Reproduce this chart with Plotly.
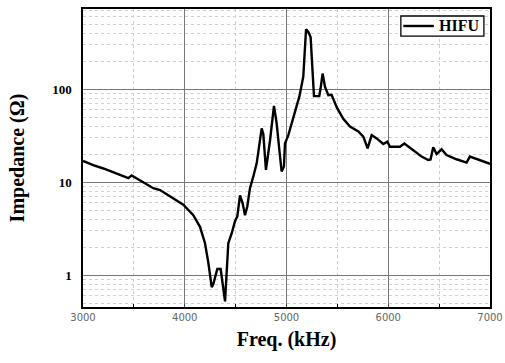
import plotly.graph_objects as go

freq = [3000, 3100, 3200, 3300, 3446, 3478, 3560, 3691, 3757, 3888, 3986, 4084, 4150, 4199, 4232, 4265,
        4281, 4320, 4353, 4396, 4428, 4461, 4494, 4517, 4543, 4569, 4592, 4615, 4641, 4674, 4707, 4756,
        4772, 4798, 4838, 4877, 4903, 4930, 4952, 4975, 4985, 5018, 5067, 5126, 5165, 5192, 5214, 5237,
        5270, 5322, 5335, 5355, 5378, 5411, 5443, 5493, 5558, 5624, 5706, 5755, 5797, 5837, 5886, 5951,
        5991, 6017, 6115, 6158, 6246, 6328, 6393, 6416, 6442, 6475, 6524, 6573, 6671, 6770, 6802, 6868, 7000]
impedance = [16.9, 15.2, 14.0, 12.6, 11.0, 11.8, 10.5, 8.6, 8.2, 6.7, 5.7, 4.4, 3.3, 2.2, 1.35, 0.74,
             0.80, 1.16, 1.16, 0.52, 2.2, 2.8, 3.8, 4.3, 7.2, 5.9, 4.4, 5.5, 8.6, 11.5, 15.9, 37.8,
             33, 13.5, 28, 66, 43, 22, 13, 14.7, 26, 32, 50, 83, 136, 440, 412, 363,
             84, 84, 102, 147, 106, 86, 87, 64, 48, 39.5, 35, 30.8, 23, 32, 29.5, 25.7,
             27.2, 24, 24, 26, 22, 18.8, 17.3, 17.5, 23.7, 20, 22.5, 19.5, 17.6, 16.2, 18.8, 17.6, 15.7]

series_name = "HIFU"
x_ticks = [3000, 4000, 5000, 6000, 7000]
y_ticks = [1, 10, 100]
y_tick_text = ["1", "10", "100"]
y_minor = [v * m for v in [0.1, 1, 10, 100] for m in range(2, 10)]

fig = go.Figure()
fig.add_trace(go.Scatter(x=freq, y=impedance, mode="lines", name=series_name,
                         line=dict(color="black", width=2.4), showlegend=False))

serif = "Liberation Serif, Times New Roman, serif"

# compact legend box: frame, sample line, label
fig.add_shape(type="rect", xref="paper", yref="paper", x0=0.781, x1=0.985, y0=0.909, y1=0.9765,
              line=dict(color="black", width=1.3), fillcolor="white", layer="above")
fig.add_shape(type="line", xref="paper", yref="paper", x0=0.787, x1=0.862, y0=0.943, y1=0.943,
              line=dict(color="black", width=2.4), layer="above")
fig.add_annotation(xref="paper", yref="paper", x=0.978, y=0.943, xanchor="right", yanchor="middle",
                   text=f"<b>{series_name}</b>", showarrow=False,
                   font=dict(family=serif, size=16, color="black"))

fig.update_layout(
    width=505, height=363,
    margin=dict(l=83, r=15, t=9, b=56, autoexpand=False),
    paper_bgcolor="white", plot_bgcolor="white",
    showlegend=False,
    xaxis=dict(range=[3000, 7000], tickvals=x_ticks, ticks="inside", ticklen=3, automargin=False,
               showgrid=True, gridcolor="#777777", gridwidth=1,
               showline=True, linecolor="black", linewidth=1.5, mirror=True,
               tickfont=dict(family="DejaVu Sans", size=10, color="#666666"),
               title=dict(text="<b>Freq. (kHz)</b>", font=dict(family=serif, size=20, color="black"), standoff=10),
               minor=dict(dtick=500, tick0=3000, showgrid=True, gridcolor="#cccccc", griddash="dot",
                          gridwidth=1, ticks="inside", ticklen=3, tickcolor="black"),
               zeroline=False),
    yaxis=dict(type="log", range=[-0.344, 2.862], tickvals=y_ticks, ticktext=y_tick_text, automargin=False,
               ticks="", ticklabelstandoff=7, showgrid=True, gridcolor="#777777", gridwidth=1,
               showline=True, linecolor="black", linewidth=1.5, mirror=True,
               tickfont=dict(family=serif, size=13, color="black", weight="bold"),
               title=dict(text="<b>Impedance (Ω)</b>", font=dict(family=serif, size=20, color="black"), standoff=22),
               minor=dict(tickmode="array", tickvals=y_minor, showgrid=True, gridcolor="#d0d0d0",
                          griddash="dot", gridwidth=1, ticks=""),
               zeroline=False),
)
fig.write_html("out.html", config={"displayModeBar": False},
               post_script="document.body.style.margin='0';document.body.style.padding='0';"
                           "document.documentElement.style.overflow='hidden';")
